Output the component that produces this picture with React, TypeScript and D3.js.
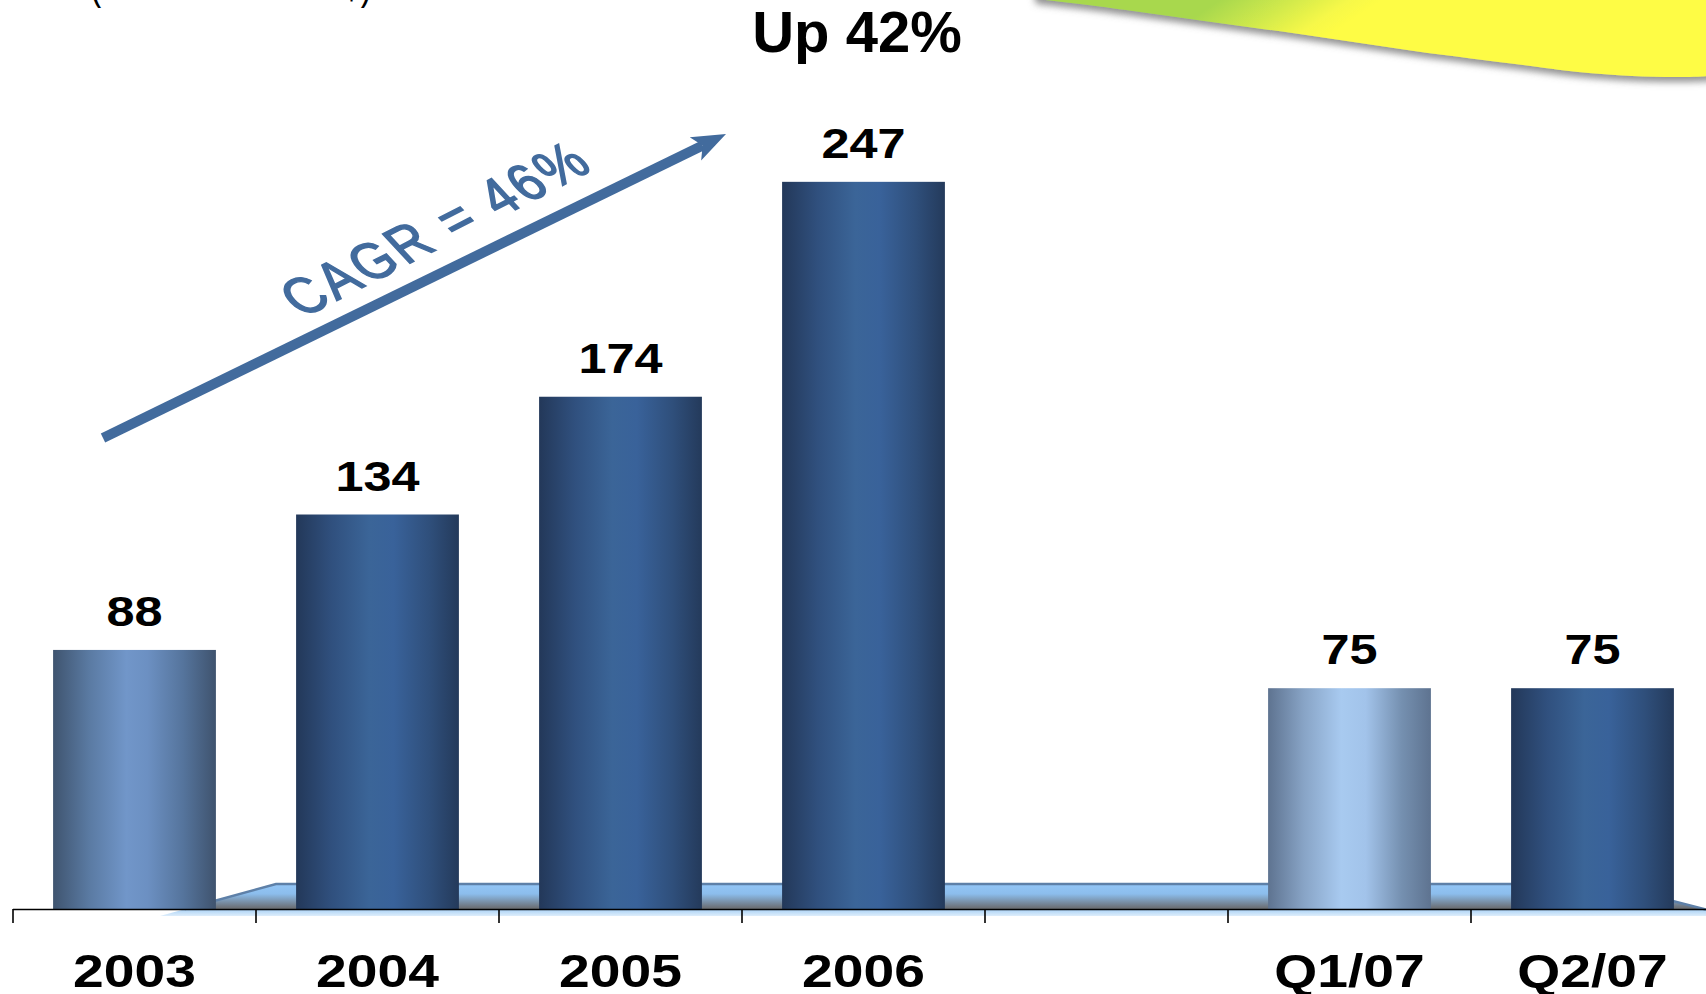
import React from "react";
import * as d3 from "d3";

const categories = ["2003", "2004", "2005", "2006", "gap", "Q1/07", "Q2/07"];
const tickLabels = ["2003", "2004", "2005", "2006", "", "Q1/07", "Q2/07"];
const revenue: (number | null)[] = [88, 134, 174, 247, null, 75, 75];
const titleText = "Up 42%";
const cagrText = "CAGR = 46%";
const unitText = "(in millions of US$)";

const W = 1706;
const H = 994;
const FONT = "'Liberation Sans', Arial, Helvetica, sans-serif";

function shadeFor(i: number) {
  if (i === 0) return "url(#gLight)";
  if (i === 5) return "url(#gPale)";
  return "url(#gDark)";
}

export default function App() {
  const baseY = 909;
  const x = d3
    .scaleBand<string>()
    .domain(categories)
    .range([13, 1714])
    .paddingInner(0.33)
    .paddingOuter(0.165);
  const y = d3.scaleLinear().domain([0, 300]).range([baseY, baseY - 300 * 2.944]);
  const step = x.step();
  const tickXs = d3.range(categories.length).map((i) => 13 + i * step);

  // swoosh
  const edge: [number, number][] = [
    [1036, -1],
    [1088, 5],
    [1197, 20],
    [1306, 35],
    [1414, 51],
    [1523, 65],
    [1578, 72],
    [1632, 76],
    [1686, 77],
    [1730, 75],
  ];
  const edgePath = d3.line().curve(d3.curveCatmullRom)(edge) as string;
  const swooshPath = edgePath + " L1740,-30 L1030,-30 Z";

  // arrow
  const S = [103, 438];
  const T = [726, 134];
  const len = Math.hypot(T[0] - S[0], T[1] - S[1]);
  const u = [(T[0] - S[0]) / len, (T[1] - S[1]) / len];
  const n = [-u[1], u[0]];
  const notch = [T[0] - 26 * u[0], T[1] - 26 * u[1]];
  const head = [
    T,
    [T[0] - 34 * u[0] - 13 * n[0], T[1] - 34 * u[1] - 13 * n[1]],
    notch,
    [T[0] - 34 * u[0] + 13 * n[0], T[1] - 34 * u[1] + 13 * n[1]],
  ]
    .map((p) => p.join(","))
    .join(" ");

  return (
    <svg
      width={W}
      height={H}
      viewBox={`0 0 ${W} ${H}`}
      style={{ position: "absolute", left: 0, top: 0, background: "#fff" }}
      fontFamily={FONT}
    >
      <defs>
        <linearGradient id="gDark" x1="0" x2="1" y1="0" y2="0">
          <stop offset="0" stopColor="#233859" />
          <stop offset="0.22" stopColor="#30507e" />
          <stop offset="0.45" stopColor="#3b6598" />
          <stop offset="0.6" stopColor="#39629a" />
          <stop offset="0.82" stopColor="#2f4f7b" />
          <stop offset="1" stopColor="#243a5b" />
        </linearGradient>
        <linearGradient id="gLight" x1="0" x2="1" y1="0" y2="0">
          <stop offset="0" stopColor="#3f546f" />
          <stop offset="0.22" stopColor="#5a7aa2" />
          <stop offset="0.45" stopColor="#7196c9" />
          <stop offset="0.58" stopColor="#6c90c2" />
          <stop offset="0.8" stopColor="#55749c" />
          <stop offset="1" stopColor="#3f536e" />
        </linearGradient>
        <linearGradient id="gPale" x1="0" x2="1" y1="0" y2="0">
          <stop offset="0" stopColor="#5e7390" />
          <stop offset="0.22" stopColor="#88a4c6" />
          <stop offset="0.45" stopColor="#a8caf0" />
          <stop offset="0.6" stopColor="#a2c3ea" />
          <stop offset="0.82" stopColor="#7590b0" />
          <stop offset="1" stopColor="#5e7390" />
        </linearGradient>
        <linearGradient id="gFloor" gradientUnits="userSpaceOnUse" x1="0" x2="0" y1="884" y2="917">
          <stop offset="0" stopColor="#93c6f7" />
          <stop offset="0.3" stopColor="#8cbdec" />
          <stop offset="0.7" stopColor="#6d737b" />
          <stop offset="0.77" stopColor="#6a6d72" />
          <stop offset="0.8" stopColor="#b1d5f6" />
          <stop offset="1" stopColor="#e6f2fc" />
        </linearGradient>
        <linearGradient id="gSwoosh" gradientUnits="userSpaceOnUse" x1="1220" y1="0" x2="1270" y2="75">
          <stop offset="0" stopColor="#a8d84e" />
          <stop offset="0.45" stopColor="#d2ea4c" />
          <stop offset="0.8" stopColor="#f6f848" />
          <stop offset="1" stopColor="#fefc44" />
        </linearGradient>
        <filter id="fShadow" x="-10%" y="-50%" width="120%" height="200%">
          <feDropShadow dx="0" dy="5" stdDeviation="3.5" floodColor="#6e6e6e" floodOpacity="0.75" />
        </filter>
      </defs>

      {/* decorative swoosh */}
      <path d={swooshPath} fill="url(#gSwoosh)" filter="url(#fShadow)" />

      {/* unit text, mostly cut off at the top edge */}
      <text x={90} y={-1.5} fontSize={44} fill="#000" textLength={282} lengthAdjust="spacingAndGlyphs">
        {unitText}
      </text>

      {/* floor */}
      <polygon points="160,916 276,884 1607,884 1730,916" fill="url(#gFloor)" />
      <polyline points="185,909 276,884 1607,884 1706,909.5" fill="none" stroke="#5e80a8" strokeWidth={2.5} />

      {/* bars */}
      {categories.map((c, i) => {
        const v = revenue[i];
        if (v == null) return null;
        return (
          <rect
            key={c}
            x={x(c)}
            y={y(v)}
            width={x.bandwidth()}
            height={baseY - y(v)}
            fill={shadeFor(i)}
          />
        );
      })}

      {/* axis */}
      <line x1={13} x2={W} y1={baseY + 0.5} y2={baseY + 0.5} stroke="#000" strokeWidth={1.6} />
      {tickXs.map((tx, i) => (
        <line key={i} x1={tx} x2={tx} y1={baseY} y2={923} stroke="#000" strokeWidth={1.6} />
      ))}

      {/* category labels */}
      {categories.map((c, i) => {
        const cx = (x(c) as number) + x.bandwidth() / 2;
        return (
          <text
            key={c}
            transform={`translate(${cx},987) scale(1.2,1)`}
            textAnchor="middle"
            fontSize={46}
            fontWeight="bold"
            fill="#000"
          >
            {tickLabels[i]}
          </text>
        );
      })}

      {/* value labels */}
      {categories.map((c, i) => {
        const v = revenue[i];
        if (v == null) return null;
        const cx = (x(c) as number) + x.bandwidth() / 2;
        return (
          <text
            key={c}
            transform={`translate(${cx},${y(v) - 24}) scale(1.2,1)`}
            textAnchor="middle"
            fontSize={42}
            fontWeight="bold"
            fill="#000"
          >
            {v}
          </text>
        );
      })}

      {/* title */}
      <text x={857} y={52} textAnchor="middle" fontSize={58} fontWeight="bold" fill="#000">
        {titleText}
      </text>

      {/* CAGR arrow */}
      <line x1={S[0]} y1={S[1]} x2={notch[0]} y2={notch[1]} stroke="#426b9d" strokeWidth={10} />
      <polygon points={head} fill="#426b9d" />
      <text
        transform="translate(448,244) rotate(-27) skewX(16) scale(0.88,1)"
        textAnchor="middle"
        fontSize={56}
        fill="#426b9d"
        stroke="#426b9d"
        strokeWidth={1.6}
        textLength={372}
        lengthAdjust="spacing"
      >
        {cagrText}
      </text>
    </svg>
  );
}
